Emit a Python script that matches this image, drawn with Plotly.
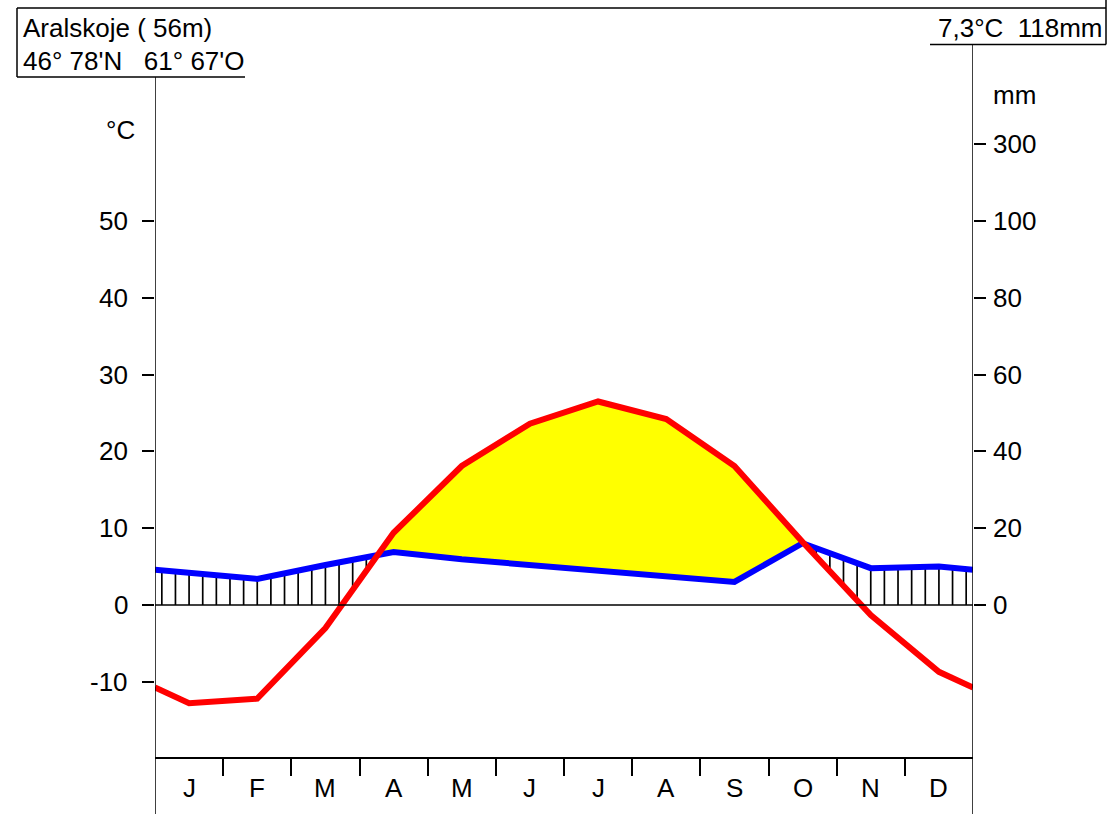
import numpy as np
import plotly.graph_objects as go

# ---- data ----
months = ["J", "F", "M", "A", "M", "J", "J", "A", "S", "O", "N", "D"]
temperature = [-12.8, -12.2, -3.0, 9.4, 18.1, 23.6, 26.5, 24.2, 18.1, 8.2, -1.3, -8.7]   # °C
precipitation = [8.3, 6.8, 10.4, 13.8, 11.9, 10.4, 8.9, 7.3, 6.0, 16.1, 9.6, 10.0]       # mm
temp_ticks = [-10, 0, 10, 20, 30, 40, 50]
precip_ticks = [0, 20, 40, 60, 80, 100, 300]
station = "Aralskoje ( 56m)"
coords = "46° 78'N\u00a0\u00a0\u00a061° 67'O"
summary = "7,3°C\u00a0\u00a0118mm"

W, H = 1120, 814
FONT = "Liberation Sans, Arial, sans-serif"
FS = 26

# pixel geometry
X0, X1 = 155, 973          # plot left / right (month 0 .. 12)
Y_ZERO, PX_PER_10 = 605, 76.8
y_top = Y_ZERO / (PX_PER_10 / 10)
y_bot = -(H - Y_ZERO) / (PX_PER_10 / 10)


def px(x):
    return x / W


def py(y):
    return 1 - y / H


def mm_to_scale(v):
    # Walter-Lieth: 20 mm = 10 °C up to 100 mm, compressed 1/10 above
    return v / 2 if v <= 100 else 50 + (v - 100) / 20


# series with edge points (Dec/Jan mean at both edges)
xc = [i + 0.5 for i in range(12)]
t_edge = (temperature[0] + temperature[-1]) / 2
p_edge = (precipitation[0] + precipitation[-1]) / 2
x_all = [0] + xc + [12]
t_all = [t_edge] + temperature + [t_edge]
p_all = [mm_to_scale(v) for v in [p_edge] + precipitation + [p_edge]]

fig = go.Figure()

# arid area (yellow): temperature above precipitation
xf = np.linspace(0, 12, 2401)
tf = np.interp(xf, x_all, t_all)
pf = np.interp(xf, x_all, p_all)
mask = tf > pf
idx = np.where(mask)[0]
if len(idx):
    runs = np.split(idx, np.where(np.diff(idx) != 1)[0] + 1)
    for r in runs:
        xs = list(xf[r]) + list(xf[r][::-1])
        ys = list(tf[r]) + list(pf[r][::-1])
        fig.add_trace(go.Scatter(x=xs, y=ys, fill="toself", fillcolor="#ffff00",
                                 line=dict(width=0), mode="lines", hoverinfo="skip",
                                 showlegend=False))

# humid hatching: vertical lines where precipitation above temperature
hx = np.arange(0.1, 12, 0.2)
ht = np.interp(hx, x_all, t_all)
hp = np.interp(hx, x_all, p_all)
lx, ly = [], []
for x, t, p in zip(hx, ht, hp):
    if p > t:
        lx += [x, x, None]
        ly += [max(t, 0), p, None]
fig.add_trace(go.Scatter(x=lx, y=ly, mode="lines", line=dict(color="black", width=1.7),
                         hoverinfo="skip", showlegend=False))

# precipitation line
fig.add_trace(go.Scatter(x=x_all, y=p_all, mode="lines", line=dict(color="#0000ff", width=6),
                         showlegend=False))
# temperature line
fig.add_trace(go.Scatter(x=x_all, y=t_all, mode="lines", line=dict(color="#ff0000", width=6),
                         showlegend=False))
# invisible trace for right axis
fig.add_trace(go.Scatter(x=[0], y=[0], yaxis="y2", mode="markers",
                         marker=dict(opacity=0), hoverinfo="skip", showlegend=False))

LW = 1.5
shapes = []
# zero line
shapes.append(dict(type="line", xref="x", yref="y", x0=0, x1=12, y0=0, y1=0,
                   line=dict(color="black", width=LW)))
# left and right vertical axes
shapes.append(dict(type="line", xref="x", yref="paper", x0=0, x1=0, y0=py(77), y1=0,
                   line=dict(color="black", width=LW)))
shapes.append(dict(type="line", xref="x", yref="paper", x0=12, x1=12, y0=py(44.5), y1=0,
                   line=dict(color="black", width=LW)))
# outer frame pieces
for (a, b, c, d) in [(17, 8, 1106, 8), (17, 8, 17, 77), (17, 77, 245, 77),
                     (1106, 0, 1106, 44.5), (930, 44.5, 1106, 44.5)]:
    shapes.append(dict(type="line", xref="paper", yref="paper", x0=px(a), y0=py(b),
                       x1=px(c), y1=py(d), line=dict(color="black", width=LW)))

ann = []
txt = dict(family=FONT, size=FS, color="black")
ann.append(dict(text=station, xref="paper", yref="paper", x=px(21), y=py(28),
                xanchor="left", yanchor="middle", showarrow=False, font=txt))
ann.append(dict(text=coords, xref="paper", yref="paper", x=px(21), y=py(61),
                xanchor="left", yanchor="middle", showarrow=False, font=txt))
ann.append(dict(text=summary, xref="paper", yref="paper", x=px(1105), y=py(28),
                xanchor="right", yanchor="middle", showarrow=False, font=txt))
ann.append(dict(text="°C", xref="paper", yref="paper", x=px(120), y=py(130),
                xanchor="center", yanchor="middle", showarrow=False, font=txt))
ann.append(dict(text="mm", xref="paper", yref="paper", x=px(1014), y=py(95),
                xanchor="center", yanchor="middle", showarrow=False, font=txt))
for v in temp_ticks:
    ann.append(dict(text=str(v), xref="paper", yref="y", x=px(130), y=v,
                    xanchor="right", yanchor="middle", showarrow=False, font=txt))
for v in precip_ticks:
    ann.append(dict(text=str(v), xref="paper", yref="y", x=px(991), y=mm_to_scale(v),
                    xanchor="left", yanchor="middle", showarrow=False, font=txt))
for i, m in enumerate(months):
    ann.append(dict(text=m, xref="x", yref="paper", x=i + 0.5, y=py(788),
                    xanchor="center", yanchor="middle", showarrow=False, font=txt))

fig.update_layout(
    width=W, height=H, margin=dict(l=0, r=0, t=0, b=0),
    paper_bgcolor="white", plot_bgcolor="white",
    xaxis=dict(range=[0, 12], domain=[px(X0), px(X1)], anchor="free", position=py(758),
               showgrid=False, zeroline=False, showline=True, linecolor="black", linewidth=LW,
               ticks="outside", ticklen=17, tickwidth=LW, tickcolor="black",
               tickvals=list(range(1, 12)), showticklabels=False, fixedrange=True),
    yaxis=dict(range=[y_bot, y_top], domain=[0, 1], anchor="x", showgrid=False, zeroline=False,
               showline=False, ticks="outside", ticklen=12, tickwidth=LW, tickcolor="black",
               tickvals=temp_ticks, showticklabels=False, fixedrange=True),
    yaxis2=dict(range=[y_bot, y_top], overlaying="y", side="right", anchor="x",
                showgrid=False, zeroline=False, showline=False, ticks="outside", ticklen=12,
                tickwidth=LW, tickcolor="black",
                tickvals=[mm_to_scale(v) for v in precip_ticks], showticklabels=False,
                fixedrange=True),
    shapes=shapes, annotations=ann, showlegend=False,
)

fig.write_html("out.html", config={"displayModeBar": False},
               post_script="document.body.style.margin='0px';document.body.style.overflow='hidden';")
